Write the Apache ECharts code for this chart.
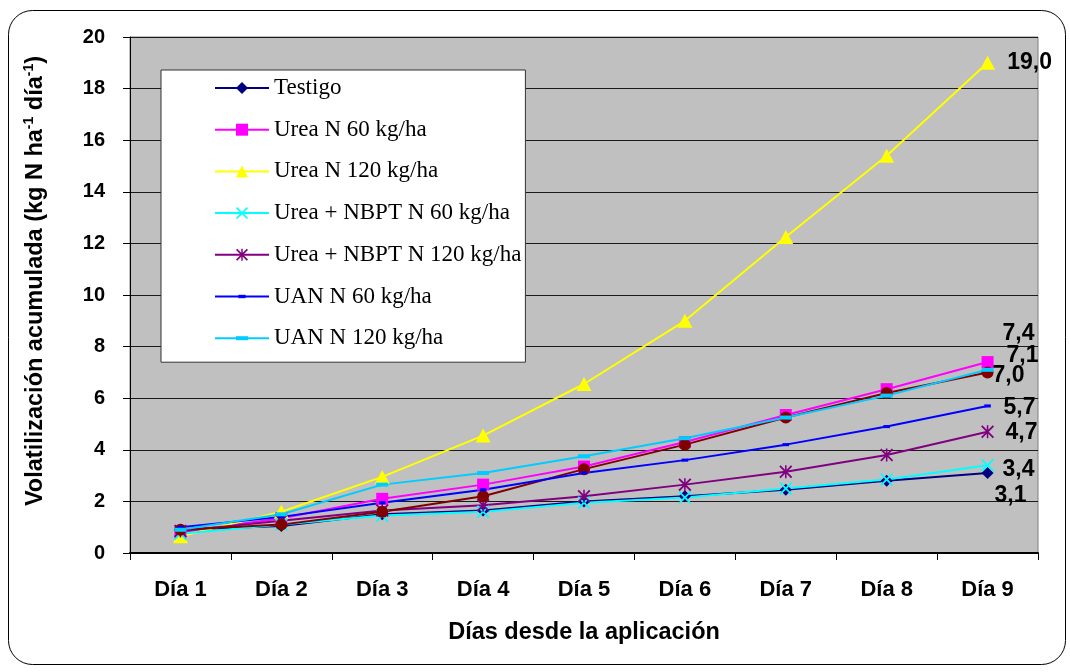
<!DOCTYPE html>
<html>
<head>
<meta charset="utf-8">
<script src="https://cdn.jsdelivr.net/npm/echarts@6/dist/echarts.min.js"></script>
<style>
  html, body { margin: 0; padding: 0; background: #ffffff; }
  #chart { width: 1070px; height: 672px; }
</style>
</head>
<body>
<div id="chart"></div>
<script>
// Accumulated ammonia volatilisation by day after application
const days = ['Día 1', 'Día 2', 'Día 3', 'Día 4', 'Día 5', 'Día 6', 'Día 7', 'Día 8', 'Día 9'];

const testigo     = [0.90, 1.05, 1.50, 1.65, 2.00, 2.20, 2.45, 2.80, 3.1];
const urea60      = [0.80, 1.35, 2.10, 2.65, 3.35, 4.30, 5.35, 6.35, 7.4];
const urea120     = [0.65, 1.60, 2.95, 4.55, 6.55, 9.00, 12.25, 15.40, 19.0];
const nbpt60      = [0.75, 1.10, 1.45, 1.60, 1.95, 2.15, 2.50, 2.85, 3.4];
const nbpt120     = [0.85, 1.25, 1.65, 1.85, 2.20, 2.65, 3.15, 3.80, 4.7];
const serie8      = [0.90, 1.10, 1.60, 2.20, 3.25, 4.20, 5.25, 6.20, 7.0];
const uan60       = [1.00, 1.40, 1.95, 2.45, 3.10, 3.60, 4.20, 4.90, 5.7];
const uan120      = [0.90, 1.50, 2.65, 3.10, 3.75, 4.45, 5.25, 6.10, 7.1];

const yMin = 0, yMax = 20, yStep = 2;

// Marker shapes drawn as filled paths (the dashes keep a square bounding box)
const crossPath = 'path://M0,1L1,0L5,4L9,0L10,1L6,5L10,9L9,10L5,6L1,10L0,9L4,5Z';
const starPath  = 'path://M0,1L1,0L5,4L9,0L10,1L6,5L10,9L9,10L5,6L1,10L0,9L4,5Z M4.4,0L5.6,0L5.6,10L4.4,10Z';
const shortDash = 'path://M0,0L0,0M2,3.6L8,3.6L8,6.4L2,6.4ZM10,10L10,10';
const longDash  = 'path://M0,0L0,0M0,4L12,4L12,8L0,8ZM12,12L12,12';

const fmt = v => v.toFixed(1).replace('.', ',');

const defs = [
  { name: 'Testigo',                data: testigo, color: '#000080', symbol: 'diamond',  size: 12,       off: [23, 23] },
  { name: 'Urea N 60 kg/ha',        data: urea60,  color: '#FF00FF', symbol: 'rect',     size: 12,       off: [31, -28] },
  { name: 'Urea N 120 kg/ha',       data: urea120, color: '#FFFF00', symbol: 'triangle', size: [15, 14], off: [42, 0] },
  { name: 'Urea + NBPT N 60 kg/ha', data: nbpt60,  color: '#00FFFF', symbol: crossPath,  size: 13,       off: [31, 4] },
  { name: 'Urea + NBPT N 120 kg/ha',data: nbpt120, color: '#800080', symbol: starPath,   size: 13,       off: [34, 1] },
  { name: 'Serie8',                 data: serie8,  color: '#800000', symbol: 'circle',   size: 12,       off: [21, 3] },
  { name: 'UAN N 60 kg/ha',         data: uan60,   color: '#0000FF', symbol: shortDash,  size: 11,       off: [32, 2] },
  { name: 'UAN N 120 kg/ha',        data: uan120,  color: '#00CCFF', symbol: longDash,   size: 12,       off: [35, -14] }
];

const sansBold = { fontFamily: 'Liberation Sans, Arial, sans-serif', fontWeight: 'bold', color: '#000' };

const series = defs.map(d => ({
  name: d.name,
  type: 'line',
  data: d.data.map((v, i) => i === d.data.length - 1 ? {
    value: v,
    label: {
      show: true, position: 'inside', offset: d.off,
      formatter: p => fmt(p.value),
      fontSize: 23, ...sansBold
    }
  } : v),
  symbol: d.symbol,
  symbolSize: d.size,
  showAllSymbol: true,
  animation: false,
  lineStyle: { color: d.color, width: 2 },
  itemStyle: { color: d.color, borderWidth: 0 },
  emphasis: { disabled: true }
}));

const chart = echarts.init(document.getElementById('chart'), null, { renderer: 'canvas' });

chart.setOption({
  backgroundColor: '#ffffff',
  animation: false,
  grid: {
    left: 130, right: 32, top: 37, bottom: 119,
    show: true, backgroundColor: '#C0C0C0', borderColor: '#808080', borderWidth: 1
  },
  legend: {
    data: defs.filter(d => d.name !== 'Serie8').map(d => d.name),
    orient: 'vertical',
    left: 161, top: 70,
    itemWidth: 54, itemHeight: 15, itemGap: 18.7, itemTextGap: 7,
    padding: [6.5, 4, 12.5, 53],
    backgroundColor: '#ffffff',
    borderColor: '#333333', borderWidth: 1,
    selectedMode: false,
    textStyle: { fontFamily: 'Liberation Serif, Times New Roman, serif', fontSize: 23, lineHeight: 23, color: '#000' }
  },
  xAxis: {
    type: 'category',
    data: days,
    boundaryGap: true,
    axisLine: { lineStyle: { color: '#000', width: 2 } },
    axisTick: { show: true, length: 7, lineStyle: { color: '#000' } },
    axisLabel: { margin: 26, fontSize: 22, ...sansBold },
    name: 'Días desde la aplicación',
    nameLocation: 'middle',
    nameGap: 68,
    nameTextStyle: { fontSize: 23.5, ...sansBold }
  },
  yAxis: {
    type: 'value',
    min: yMin, max: yMax, interval: yStep,
    axisLine: { show: true, lineStyle: { color: '#000', width: 1 } },
    axisTick: { show: true, length: 7, lineStyle: { color: '#000' } },
    axisLabel: { margin: 25, fontSize: 20, ...sansBold },
    splitLine: { show: true, lineStyle: { color: '#1a1a1a', width: 1 } }
  },
  graphic: [
    {
      type: 'rect', z: -1, silent: true,
      shape: { x: 8.5, y: 10.5, width: 1057, height: 654, r: 24 },
      style: { fill: null, stroke: '#000', lineWidth: 1 }
    },
    {
      type: 'text', silent: true,
      x: 36, y: 281, rotation: Math.PI / 2,
      style: {
        text: 'Volatilización acumulada (kg N ha{sup|-1} día{sup|-1})',
        align: 'center', verticalAlign: 'middle',
        fontFamily: 'Liberation Sans, Arial, sans-serif', fontWeight: 'bold',
        fontSize: 23.5, lineHeight: 28, fill: '#000',
        rich: {
          sup: { fontSize: 14, lineHeight: 14, verticalAlign: 'top', fontWeight: 'bold',
                 fontFamily: 'Liberation Sans, Arial, sans-serif', fill: '#000' }
        }
      }
    }
  ],
  series
});
</script>
</body>
</html>
